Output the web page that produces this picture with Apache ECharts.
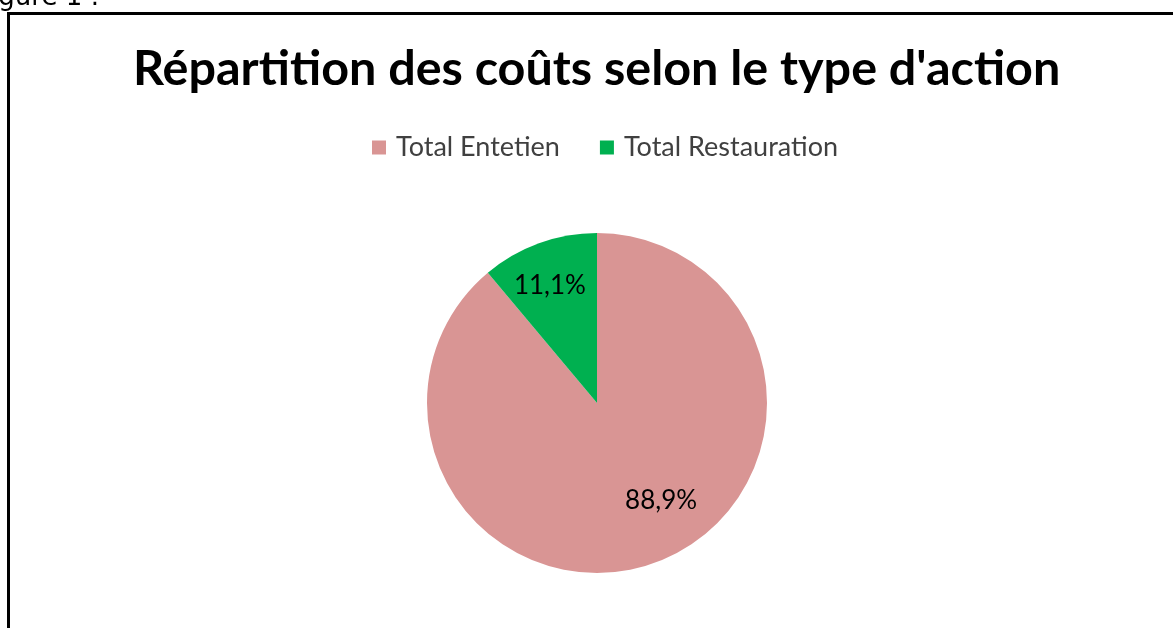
<!DOCTYPE html>
<html>
<head>
<meta charset="utf-8">
<script src="https://cdn.jsdelivr.net/npm/echarts@6/dist/echarts.min.js"></script>
<style>
  html, body { margin: 0; padding: 0; background: #fff; }
  #chart { width: 1173px; height: 628px; }
</style>
</head>
<body>
<div id="chart"></div>
<script>
const titleText = "Répartition des coûts selon le type d'action"
const categories = ['Total Entetien', 'Total Restauration']
const shares = [88.9, 11.1]
const colors = ['#D99594', '#00B050']
// push the in-slice labels to where Excel put them
const labelOffsets = [[34, 15], [-17, -35]]

const chart = echarts.init(document.getElementById('chart'))

chart.setOption({
  animation: false,
  title: {
    text: titleText,
    left: 128,
    top: 40,
    textStyle: {
      fontFamily: 'Lato',
      fontWeight: 'bold',
      fontSize: 48.5,
      color: '#000'
    }
  },
  legend: {
    top: 129,
    left: 367,
    itemWidth: 14,
    itemHeight: 14,
    itemGap: 40,
    icon: 'rect',
    textStyle: {
      fontFamily: 'Lato',
      fontSize: 27,
      color: '#404040',
      padding: [0, 0, 0, 5]
    },
    data: categories
  },
  graphic: [
    {
      type: 'rect',
      shape: { x: 8.5, y: 13.5, width: 1300, height: 800 },
      style: { fill: 'none', stroke: '#000', lineWidth: 3 }
    },
    {
      type: 'text',
      x: -22,
      y: 11,
      style: {
        text: 'Figure 1 :',
        fontSize: 26,
        fontFamily: 'DejaVu Sans',
        verticalAlign: 'bottom',
        fill: '#000'
      }
    }
  ],
  series: [
    {
      type: 'pie',
      center: [597, 403],
      radius: 170,
      startAngle: 90,
      clockwise: true,
      silent: true,
      label: {
        show: true,
        position: 'inside',
        fontFamily: 'Lato',
        fontSize: 26,
        color: '#000',
        formatter: p => p.value.toFixed(1).replace('.', ',') + '%'
      },
      labelLine: { show: false },
      data: categories.map((name, i) => ({
        name,
        value: shares[i],
        itemStyle: { color: colors[i] },
        label: { offset: labelOffsets[i] }
      }))
    }
  ]
})
</script>
</body>
</html>
